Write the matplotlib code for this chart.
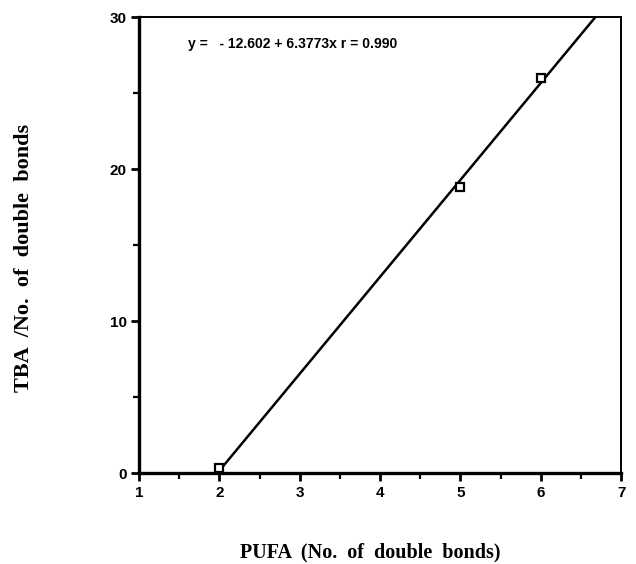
import matplotlib
matplotlib.use("Agg")
import matplotlib.pyplot as plt
import numpy as np
from matplotlib.ticker import MultipleLocator

# Measured points
pufa = [2, 5, 6]
tba_per_db = [0.3, 18.8, 26.0]

# Regression line
intercept = -12.602
slope = 6.3773
r_value = 0.990

xticks = [1, 2, 3, 4, 5, 6, 7]
yticks = [0, 10, 20, 30]

fig = plt.figure(figsize=(6.36, 5.64), dpi=100)
ax = fig.add_axes([0.2186, 0.1613, 0.758, 0.8085])

x_end = (30 - intercept) / slope
xl = np.array([2, x_end])
ax.plot(xl, intercept + slope * xl, color="black", lw=1.8, zorder=2)
ax.plot(pufa, tba_per_db, linestyle="none", marker="s", markersize=6,
        markerfacecolor="white", markeredgecolor="black", markeredgewidth=1.6, zorder=3)

ax.set_xlim(1, 7)
ax.set_ylim(0, 30)
ax.set_xticks(xticks)
ax.set_yticks(yticks)
ax.xaxis.set_minor_locator(MultipleLocator(0.5))
ax.yaxis.set_minor_locator(MultipleLocator(5))

for side in ["left", "bottom"]:
    ax.spines[side].set_linewidth(2.4)
for side in ["top", "right"]:
    ax.spines[side].set_linewidth(1.4)

ax.tick_params(axis="both", which="major", direction="out", length=6, width=2,
               labelsize=11, pad=3)
ax.tick_params(axis="both", which="minor", direction="out", length=4, width=1.6)
for lab in ax.get_xticklabels() + ax.get_yticklabels():
    lab.set_fontfamily("Liberation Sans")
    lab.set_fontweight("bold")

ax.text(1.61, 28.2, f"y =   - {abs(intercept):.3f} + {slope:.4f}x r = {r_value:.3f}",
        fontsize=10, fontfamily="Liberation Sans", fontweight="bold",
        va="center", ha="left")

fig.text(0.037, 0.543, "TBA  /No.  of  double  bonds", rotation=90, ha="center", va="center",
         fontsize=16, fontfamily="Liberation Serif", fontweight="bold")
fig.text(0.582, 0.02, "PUFA  (No.  of  double  bonds)", ha="center", va="center",
         fontsize=14.5, fontfamily="Liberation Serif", fontweight="bold")

fig.savefig("out.png", dpi=100)
